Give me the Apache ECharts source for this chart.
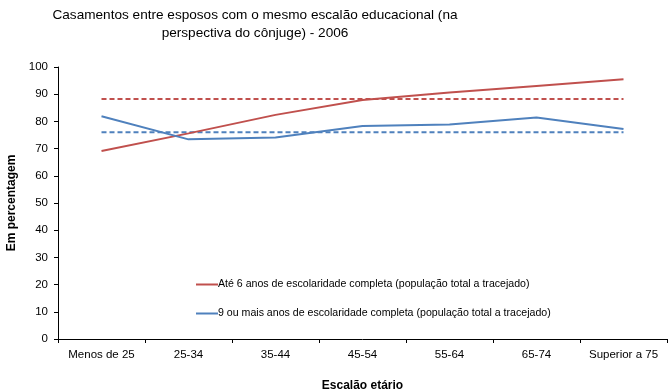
<!DOCTYPE html>
<html>
<head>
<meta charset="utf-8">
<script src="https://cdn.jsdelivr.net/npm/echarts@6/dist/echarts.min.js"></script>
<style>
html,body{margin:0;padding:0;background:#fff;}
#chart{width:668px;height:391px;}
</style>
</head>
<body>
<div id="chart"></div>
<script>
// Age groups on the horizontal axis
const categories = ['Menos de 25', '25-34', '35-44', '45-54', '55-64', '65-74', 'Superior a 75'];

// Share of spouses with the same education level, by age group (%)
const ate6Anos = [69.1, 75.6, 82.4, 87.9, 90.6, 93.0, 95.5];
const noveOuMais = [81.9, 73.4, 74.1, 78.3, 78.9, 81.4, 77.2];

// Whole-population reference levels (dashed lines)
const ate6AnosTotal = 88.2;
const noveOuMaisTotal = 76.0;

const seriesNames = [
  'Até 6 anos de escolaridade completa (população total a tracejado)',
  '9 ou mais anos de escolaridade completa (população total a tracejado)'
];

const yTicks = { min: 0, max: 100, interval: 10 };

const RED = '#C0504D';
const BLUE = '#4F81BD';
const FONT = '"Liberation Sans", Arial, sans-serif';

const flat = v => categories.map(() => v);

const chart = echarts.init(document.getElementById('chart'));
chart.setOption({
  animation: false,
  textStyle: { fontFamily: FONT },
  title: {
    text: 'Casamentos entre esposos com o mesmo escalão educacional (na\nperspectiva do cônjuge) - 2006',
    left: 250,
    top: 1,
    textAlign: 'center',
    textStyle: { fontFamily: FONT, fontSize: 13.6, fontWeight: 'normal', color: '#000', lineHeight: 18 }
  },
  grid: { left: 58, right: 1, top: 67, bottom: 52, outerBoundsMode: 'none', containLabel: false },
  legend: {
    data: seriesNames,
    orient: 'vertical',
    left: 191,
    top: 274,
    itemGap: 18,
    itemWidth: 22,
    itemHeight: 2,
    icon: 'rect',
    textStyle: { fontFamily: FONT, fontSize: 10.6, color: '#000', padding: [0, 0, 0, -5] }
  },
  xAxis: {
    type: 'category',
    data: categories,
    boundaryGap: true,
    name: 'Escalão etário',
    nameLocation: 'middle',
    nameGap: 41,
    nameTextStyle: { fontFamily: FONT, fontSize: 12, fontWeight: 'bold', color: '#000' },
    axisLine: { lineStyle: { color: '#000', width: 1 } },
    axisTick: { show: true, inside: false, length: 4, lineStyle: { color: '#000' } },
    axisLabel: { fontFamily: FONT, fontSize: 11.5, color: '#000', margin: 10, interval: 0 },
    splitLine: { show: false }
  },
  yAxis: {
    type: 'value',
    min: yTicks.min,
    max: yTicks.max,
    interval: yTicks.interval,
    name: 'Em percentagem',
    nameLocation: 'middle',
    nameGap: 38,
    nameTextStyle: { fontFamily: FONT, fontSize: 12, fontWeight: 'bold', color: '#000' },
    axisLine: { show: true, lineStyle: { color: '#000', width: 1 } },
    axisTick: { show: true, length: 4, lineStyle: { color: '#000' } },
    axisLabel: { fontFamily: FONT, fontSize: 11.5, color: '#000', margin: 10 },
    splitLine: { show: false }
  },
  series: [
    {
      name: seriesNames[0],
      type: 'line',
      data: ate6Anos,
      symbol: 'none',
      lineStyle: { color: RED, width: 2 },
      itemStyle: { color: RED },
      z: 3
    },
    {
      name: seriesNames[1],
      type: 'line',
      data: noveOuMais,
      symbol: 'none',
      lineStyle: { color: BLUE, width: 2 },
      itemStyle: { color: BLUE },
      z: 3
    },
    {
      name: 'ate6Total',
      type: 'line',
      data: flat(ate6AnosTotal),
      symbol: 'none',
      lineStyle: { color: RED, width: 2, type: [5, 3] },
      z: 2
    },
    {
      name: 'noveTotal',
      type: 'line',
      data: flat(noveOuMaisTotal),
      symbol: 'none',
      lineStyle: { color: BLUE, width: 2, type: [5, 3] },
      z: 2
    }
  ]
});
</script>
</body>
</html>
